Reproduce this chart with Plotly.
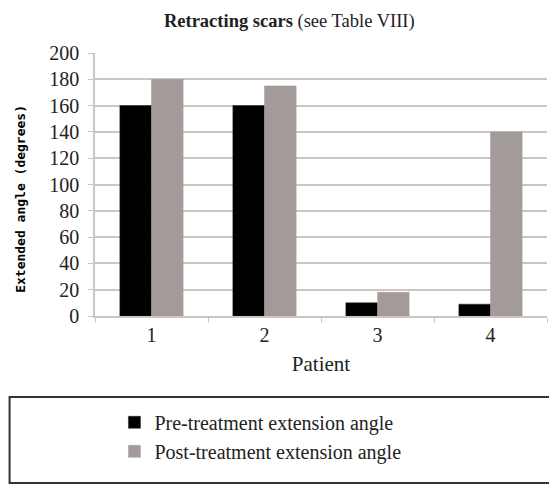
import plotly.graph_objects as go

patients = ["1", "2", "3", "4"]
pre_values = [160, 160, 10, 9]
post_values = [180, 175, 18, 140]
series_names = ["Pre-treatment extension angle", "Post-treatment extension angle"]
y_ticks = [0, 20, 40, 60, 80, 100, 120, 140, 160, 180, 200]

serif = "Liberation Serif"
grid_col = "#cfc6c2"

fig = go.Figure()
fig.add_trace(go.Bar(x=patients, y=pre_values, name=series_names[0],
                     marker=dict(color="#000000", line=dict(color="#222222", width=0.5))))
fig.add_trace(go.Bar(x=patients, y=post_values, name=series_names[1],
                     marker=dict(color="#a29b99", line=dict(color="#a29b99", width=0.5))))

fig.update_layout(
    width=549, height=485,
    margin=dict(l=95, r=2, t=53, b=169),
    paper_bgcolor="white", plot_bgcolor="white",
    barmode="group", bargap=0.44, bargroupgap=0,
    font=dict(family=serif, size=20, color="#222222"),
    title=dict(text="<b>Retracting scars</b> (see Table VIII)", x=0.527, xanchor="center",
               y=0.958, yanchor="middle", font=dict(family=serif, size=18.5, color="#222222")),
    xaxis=dict(type="category", showline=True, linecolor=grid_col, linewidth=1.5,
               ticks="outside", tickson="boundaries", ticklen=5, tickcolor=grid_col,
               tickfont=dict(family=serif, size=20),
               title=dict(text="Patient", font=dict(family=serif, size=21), standoff=12)),
    yaxis=dict(range=[0, 200], tickvals=y_ticks, showline=True, linecolor=grid_col, linewidth=1.5,
               showgrid=True, gridcolor=grid_col, gridwidth=1.5,
               ticks="outside", ticklen=5, tickcolor=grid_col, ticklabelstandoff=5,
               tickfont=dict(family=serif, size=20), zeroline=False),
    legend=dict(x=0.043, y=-0.33, xanchor="left", yanchor="top",
                bgcolor="rgba(0,0,0,0)", font=dict(family=serif, size=20),
                tracegroupgap=0),
    showlegend=True,
)

fig.add_annotation(text="<b>Extended angle (degrees)</b>", xref="paper", yref="paper",
                   x=-0.185, y=0.445, textangle=-90, showarrow=False,
                   font=dict(family="DejaVu Sans Mono", size=13, color="#000000"))

fig.add_shape(type="rect", xref="paper", yref="paper",
              x0=-0.189, x1=1.02, y0=-0.635, y1=-0.308,
              line=dict(color="#333333", width=2), fillcolor="rgba(0,0,0,0)")

fig.write_html("out.html", config={"displayModeBar": False},
               post_script="document.body.style.margin='0';")
